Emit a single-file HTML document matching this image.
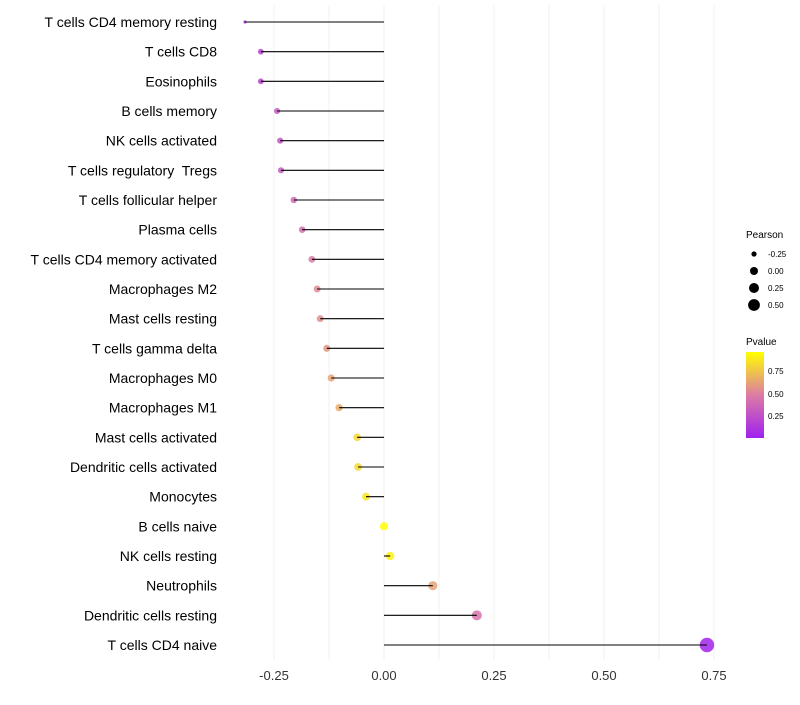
<!DOCTYPE html>
<html><head><meta charset="utf-8"><style>
body{margin:0;background:#fff;font-family:"Liberation Sans",sans-serif}
</style></head><body>
<svg id="chart" width="800" height="700" xmlns="http://www.w3.org/2000/svg">
<defs><linearGradient id="pg" x1="0" y1="1" x2="0" y2="0">
<stop offset="0" stop-color="#a020f0"/><stop offset="0.5" stop-color="#dc7ca4"/><stop offset="1" stop-color="#ffff00"/></linearGradient></defs>
<g id="grid"></g><g id="marks"></g><g id="labels"></g>
<g font-size="9" fill="#000">
<text x="746" y="238" font-size="10">Pearson</text>
<circle cx="754" cy="254" r="2.6"/><text x="768" y="257" font-size="8">-0.25</text>
<circle cx="754" cy="271" r="4"/><text x="768" y="274" font-size="8">0.00</text>
<circle cx="754" cy="288" r="5"/><text x="768" y="291" font-size="8">0.25</text>
<circle cx="754" cy="305" r="5.9"/><text x="768" y="308" font-size="8">0.50</text>
</g>
<g>
<text x="746" y="345" font-size="10">Pvalue</text>
<rect x="746" y="352" width="18" height="86" fill="url(#pg)"/>
<text x="768" y="374" font-size="8">0.75</text>
<text x="768" y="397" font-size="8">0.50</text>
<text x="768" y="419" font-size="8">0.25</text>
</g>
</svg>
<script>
const cells=["T cells CD4 memory resting","T cells CD8","Eosinophils","B cells memory","NK cells activated","T cells regulatory  Tregs","T cells follicular helper","Plasma cells","T cells CD4 memory activated","Macrophages M2","Mast cells resting","T cells gamma delta","Macrophages M0","Macrophages M1","Mast cells activated","Dendritic cells activated","Monocytes","B cells naive","NK cells resting","Neutrophils","Dendritic cells resting","T cells CD4 naive"];
const pearson=[-0.316,-0.28,-0.28,-0.243,-0.236,-0.234,-0.205,-0.186,-0.164,-0.152,-0.145,-0.13,-0.12,-0.102,-0.061,-0.059,-0.041,0.0,0.014,0.111,0.211,0.734];
const pvalue=[0.1,0.22,0.22,0.3,0.3,0.32,0.4,0.42,0.5,0.55,0.57,0.6,0.65,0.68,0.85,0.85,0.9,0.99,0.95,0.65,0.45,0.02];
const ticks=[-0.25,0,0.25,0.5,0.75];
const tickLabels=["-0.25","0.00","0.25","0.50","0.75"];
const NS="http://www.w3.org/2000/svg";
const x=v=>384+v*440;
const y=i=>22+i*(623/21);
function mk(t,a,p){const e=document.createElementNS(NS,t);for(const k in a)e.setAttribute(k,a[k]);p.appendChild(e);return e;}
function lerp(a,b,t){return a.map((v,i)=>Math.round(v+(b[i]-v)*t));}
function col(p){const A=[160,32,240],B=[220,124,164],C=[255,255,0];const c=p<0.5?lerp(A,B,p/0.5):lerp(B,C,(p-0.5)/0.5);return `rgb(${c})`;}
function rad(v){return v<-0.3?1.6:2.9+(v+0.28)*4.3;}
const grid=document.getElementById('grid'),marks=document.getElementById('marks'),labels=document.getElementById('labels');
for(let v=-0.25;v<=0.751;v+=0.125){
const g=mk('line',{x1:x(v),x2:x(v),y1:5,y2:660,stroke:'#f2f2f2','stroke-width':1},grid);


}
ticks.forEach((t,i)=>{
const e=mk('text',{x:x(t),y:680,'text-anchor':'middle','font-size':13,fill:'#333'},labels);e.textContent=tickLabels[i];


});
cells.forEach((c,i)=>{
const t=mk('text',{x:217,y:y(i)+5,'text-anchor':'end','font-size':14,fill:'#000','xml:space':'preserve'},labels);t.textContent=c;
t.style.whiteSpace='pre';


const p=mk('circle',{cx:x(pearson[i]),cy:y(i),r:rad(pearson[i]),fill:col(pvalue[i]),'fill-opacity':0.85},marks);


const l=mk('line',{x1:x(0),x2:x(pearson[i]),y1:y(i),y2:y(i),stroke:'#000','stroke-width':1.1},marks);


});
</script>
</body></html>
